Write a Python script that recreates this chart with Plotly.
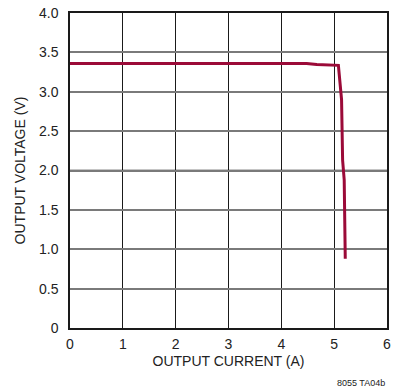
import plotly.graph_objects as go

current_a = [0.0, 0.5, 1.0, 2.0, 3.0, 4.0, 4.48, 4.67, 5.0, 5.08, 5.14, 5.16, 5.19, 5.21]
voltage_v = [3.36, 3.36, 3.36, 3.36, 3.36, 3.36, 3.36, 3.345, 3.34, 3.335, 2.90, 2.13, 1.88, 0.88]

x_ticks = [0, 1, 2, 3, 4, 5, 6]
x_labels = ["0", "1", "2", "3", "4", "5", "6"]
y_ticks = [0, 0.5, 1.0, 1.5, 2.0, 2.5, 3.0, 3.5, 4.0]
y_labels = ["0", "0.5", "1.0", "1.5", "2.0", "2.5", "3.0", "3.5", "4.0"]
y_major = [1, 2, 3]

FONT = "Liberation Sans Narrow, Arial Narrow, Liberation Sans, Arial"
DARK = "#1a1a1a"

fig = go.Figure()
fig.add_trace(go.Scatter(
    x=current_a, y=voltage_v, mode="lines",
    line=dict(color="#9b0a38", width=3), showlegend=False, hoverinfo="skip"))

# darker grid lines at whole volts
for v in y_major:
    fig.add_shape(type="line", xref="paper", x0=0, x1=1, yref="y", y0=v, y1=v,
                  line=dict(color=DARK, width=1.5), layer="below")

fig.update_layout(
    width=396, height=392,
    margin=dict(l=70, r=9, t=13, b=64),
    paper_bgcolor="white", plot_bgcolor="white",
    font=dict(family=FONT, size=14, color="#222"),
    xaxis=dict(range=[0, 6], tickmode="array", tickvals=x_ticks, ticktext=x_labels,
               showgrid=True, gridcolor=DARK, gridwidth=1.2, zeroline=False,
               showline=True, linecolor=DARK, linewidth=1.5, mirror=True,
               ticks="", ticklabelstandoff=2, automargin=False,
               title=dict(text="OUTPUT CURRENT (A)", standoff=6, font=dict(size=14))),
    yaxis=dict(range=[0, 4], tickmode="array", tickvals=y_ticks, ticktext=y_labels,
               showgrid=True, gridcolor="#7a7a7a", gridwidth=1.5, zeroline=False,
               showline=True, linecolor=DARK, linewidth=1.5, mirror=True,
               ticks="", ticklabelstandoff=7, automargin=False,
               title=dict(text="OUTPUT VOLTAGE (V)", standoff=10, font=dict(size=14))),
    annotations=[dict(text="8055 TA04b", xref="paper", yref="paper", x=1.0, y=-0.175,
                      xanchor="right", yanchor="middle", showarrow=False,
                      font=dict(size=9, family=FONT, color="#222"))],
)

fig.write_html("out.html", config={"displayModeBar": False},
               post_script="document.body.style.margin='0';document.body.style.padding='0';")
